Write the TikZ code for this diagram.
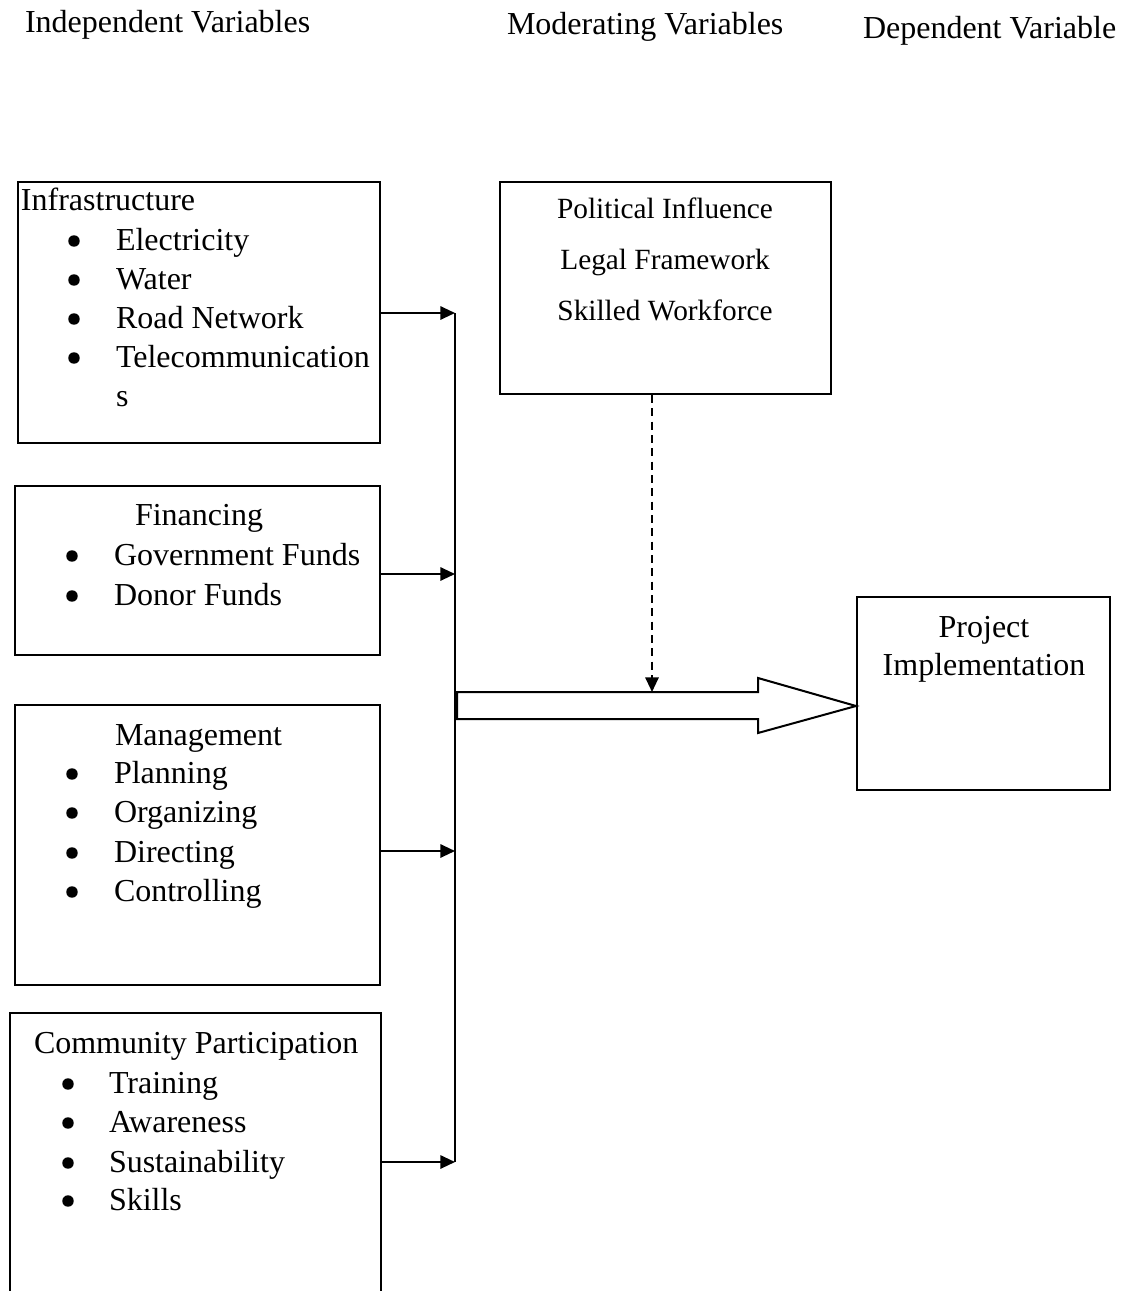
\documentclass[tikz,border=0pt]{standalone}
\usepackage{fontspec}
\setmainfont{Liberation Serif}
\usetikzlibrary{arrows.meta,fit}

\begin{document}
\begin{tikzpicture}[>={Triangle[length=11pt,width=10pt]},x=0.75pt,y=-0.75pt,line width=1.5pt,
  box/.style={draw,inner sep=0pt},
  txt/.style={inner sep=0pt,anchor=base west,font=\fontsize{24}{29}\selectfont},
  ctr/.style={txt,anchor=base},
  bul/.style={radius=4.3pt},
  modtxt/.style={inner sep=0pt,anchor=base,font=\fontsize{22}{26}\selectfont},
  modarrow/.style={->,dash pattern=on 6pt off 4pt}]
\useasboundingbox (0,0) rectangle (1128,1291);
% headings
\node[txt] (hind) at (24,33) {Independent Variables};
\node[txt] (hmod) at (506,35) {Moderating Variables};
\node[txt] (hdep) at (862,39) {Dependent Variable};
% boxes
\node[box,fit={(18,182) (380,443)}] (infra) {};
\node[box,fit={(15,486) (380,655)}] (fin) {};
\node[box,fit={(15,705) (380,985)}] (mgmt) {};
\node[inner sep=0pt,fit={(11,1014) (380,1291)}] (comm) {};
\draw (comm.south west)--(comm.north west)--(comm.north east)--(comm.south east);
\node[box,fit={(500,182) (831,394)}] (moder) {};
\node[box,fit={(857,597) (1110,790)}] (proj) {};
% infrastructure
\node[txt] (i0) at (20,211) {Infrastructure};
\fill[bul] (74,241) circle;\node[txt] (i1) at (115,250) {Electricity};
\fill[bul] (74,280) circle;\node[txt] (i2) at (115,289) {Water};
\fill[bul] (74,319) circle;\node[txt] (i3) at (115,328) {Road Network};
\fill[bul] (74,358) circle;\node[txt] (i4) at (115,367) {Telecommunication};
\node[txt] (i5) at (115,406) {s};
% financing
\node[txt] (f0) at (134,525) {Financing};
\fill[bul] (72,556) circle;\node[txt] (f1) at (113,565) {Government Funds};
\fill[bul] (72,596) circle;\node[txt] (f2) at (113,605) {Donor Funds};
% management
\node[txt] (m0) at (114,745) {Management};
\fill[bul] (72,774) circle;\node[txt] (m1) at (113,783) {Planning};
\fill[bul] (72,813) circle;\node[txt] (m2) at (113,822) {Organizing};
\fill[bul] (72,853) circle;\node[txt] (m3) at (113,862) {Directing};
\fill[bul] (72,892) circle;\node[txt] (m4) at (113,901) {Controlling};
% community participation
\node[txt] (c0) at (33,1053) {Community Participation};
\fill[bul] (68,1084) circle;\node[txt] (c1) at (108,1093) {Training};
\fill[bul] (68,1123) circle;\node[txt] (c2) at (108,1132) {Awareness};
\fill[bul] (68,1163) circle;\node[txt] (c3) at (108,1172) {Sustainability};
\fill[bul] (68,1201) circle;\node[txt] (c4) at (108,1210) {Skills};
% moderating
\node[modtxt] (p1) at (665,219) {Political Influence};
\node[modtxt] (p2) at (665,269) {Legal Framework};
\node[modtxt] (p3) at (665,320) {Skilled Workforce};
% dependent
\node[ctr] (d1) at (984,637) {Project};
\node[ctr] (d2) at (984,675) {Implementation};
% bus and arrows
\coordinate (b1) at (455,313);\coordinate (b2) at (455,574);
\coordinate (b3) at (455,851);\coordinate (b4) at (455,1162);
\draw (b1)--(b4);
\draw[->] (infra.east|-b1)--(b1);
\draw[->] (fin.east|-b2)--(b2);
\draw[->] (mgmt.east|-b3)--(b3);
\draw[->] (comm.east|-b4)--(b4);
% block arrow
\coordinate (tip) at (proj.west|-0,706);
\draw (457,692)--(758,692)--(758,678)--(tip)--(758,733)--(758,719)--(457,719)--cycle;
\coordinate (d) at (652,692);
\draw[modarrow] (moder.south-|d)--(d);
\end{tikzpicture}
\end{document}
